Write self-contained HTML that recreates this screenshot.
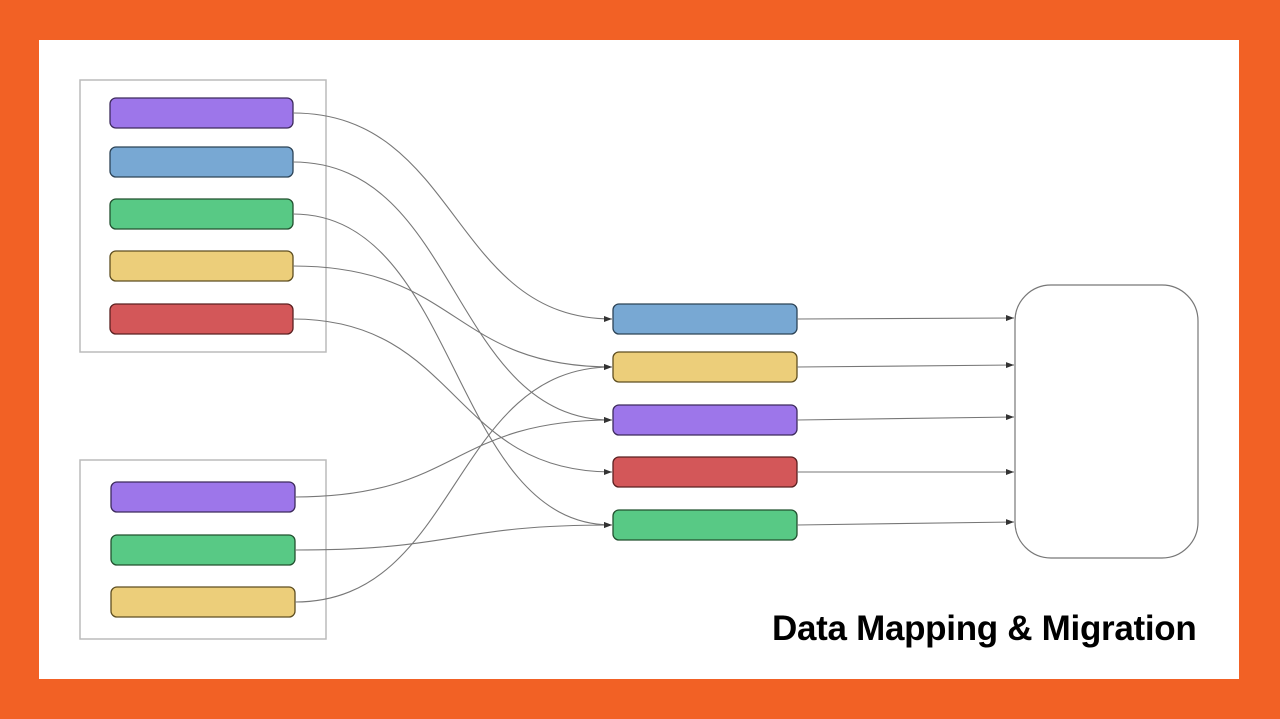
<!DOCTYPE html>
<html><head><style>
html,body{margin:0;padding:0;width:1280px;height:719px;overflow:hidden;background:#f26125;}
.card{position:absolute;left:39px;top:40px;width:1200px;height:639px;background:#fff;}
.t{position:absolute;left:772px;top:609px;font-family:"Liberation Sans",sans-serif;font-weight:bold;font-size:35px;letter-spacing:-0.3px;color:#000;white-space:nowrap;}
</style></head><body>
<div class="card"></div>
<svg width="1280" height="719" style="position:absolute;left:0;top:0">
<defs><marker id="a" markerWidth="8" markerHeight="6" refX="8" refY="3" orient="auto" markerUnits="userSpaceOnUse"><path d="M0,0 L8,3 L0,6z" fill="#333"/></marker></defs>
<rect x="80" y="80" width="246" height="272" fill="none" stroke="#bbb" stroke-width="1.5"/>
<rect x="80" y="460" width="246" height="179" fill="none" stroke="#bbb" stroke-width="1.5"/>
<g stroke-width="1.3">
<rect x="110" y="98" width="183" height="30" rx="6" fill="#9d76ea" stroke="#3d2b5c"/>
<rect x="110" y="147" width="183" height="30" rx="6" fill="#78a8d3" stroke="#2c4356"/>
<rect x="110" y="199" width="183" height="30" rx="6" fill="#58c985" stroke="#22502f"/>
<rect x="110" y="251" width="183" height="30" rx="6" fill="#ecce7a" stroke="#5e4e20"/>
<rect x="110" y="304" width="183" height="30" rx="6" fill="#d35759" stroke="#5a2020"/>
<rect x="111" y="482" width="184" height="30" rx="6" fill="#9d76ea" stroke="#3d2b5c"/>
<rect x="111" y="535" width="184" height="30" rx="6" fill="#58c985" stroke="#22502f"/>
<rect x="111" y="587" width="184" height="30" rx="6" fill="#ecce7a" stroke="#5e4e20"/>
<rect x="613" y="304" width="184" height="30" rx="6" fill="#78a8d3" stroke="#2c4356"/>
<rect x="613" y="352" width="184" height="30" rx="6" fill="#ecce7a" stroke="#5e4e20"/>
<rect x="613" y="405" width="184" height="30" rx="6" fill="#9d76ea" stroke="#3d2b5c"/>
<rect x="613" y="457" width="184" height="30" rx="6" fill="#d35759" stroke="#5a2020"/>
<rect x="613" y="510" width="184" height="30" rx="6" fill="#58c985" stroke="#22502f"/>
</g>
<rect x="1015" y="285" width="183" height="273" rx="36" fill="#fff" stroke="#777" stroke-width="1.2"/>
<g fill="none" stroke="#777" stroke-width="1.1" marker-end="url(#a)">
<path d="M293,113 C460,113 450,319 612,319"/>
<path d="M293,162 C460,162 450,420 612,420"/>
<path d="M293,214 C460,214 450,525 612,525"/>
<path d="M293,266 C460,266 450,367 612,367"/>
<path d="M293,319 C460,319 450,472 612,472"/>
<path d="M295,497 C460,497 450,420 612,420"/>
<path d="M295,550 C460,550 450,525 612,525"/>
<path d="M295,602 C460,602 450,367 612,367"/>
<path d="M797,319 L1014,318"/>
<path d="M797,367 L1014,365"/>
<path d="M797,420 L1014,417"/>
<path d="M797,472 L1014,472"/>
<path d="M797,525 L1014,522"/>
</g>
</svg>
<div class="t">Data Mapping &amp; Migration</div>
</body></html>
